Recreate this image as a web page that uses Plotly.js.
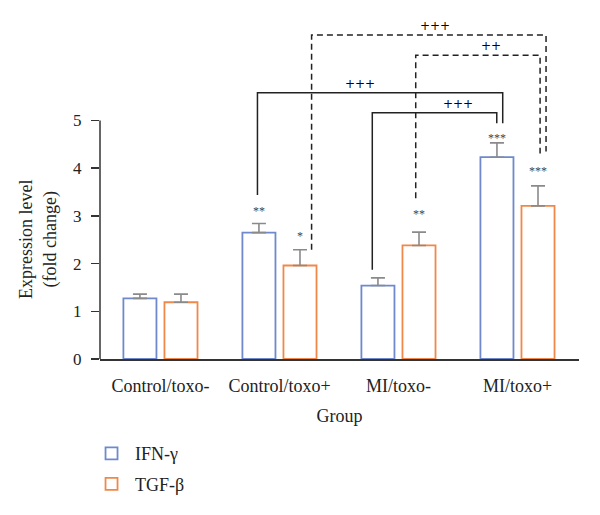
<!DOCTYPE html>
<html>
<head>
<meta charset="utf-8">
<script src="https://cdn.plot.ly/plotly-3.0.1.min.js"></script>
<style>html,body{margin:0;padding:0;background:#fff;}#chart{width:600px;height:515px;}</style>
</head>
<body>
<div id="chart"></div>
<script>
// ---- data ----
var groups = ['Control/toxo-', 'Control/toxo+', 'MI/toxo-', 'MI/toxo+'];
var ifnValues = [1.27, 2.65, 1.54, 4.23];
var ifnErrors = [0.09, 0.19, 0.16, 0.30];
var tgfValues = [1.19, 1.96, 2.38, 3.21];
var tgfErrors = [0.17, 0.33, 0.28, 0.42];
var seriesNames = ['IFN-γ', 'TGF-β'];
var yTicks = [0, 1, 2, 3, 4, 5];

// significance vs control (stars): groupIndex, series (0=IFN,1=TGF), label, y
var starGroup  = [1, 1, 2, 3, 3];
var starSeries = [0, 1, 1, 0, 1];
var starLabels = ['**', '*', '**', '***', '***'];
var starY      = [3.14, 2.62, 3.09, 4.68, 3.98];

// comparison brackets (+ marks)
var brLabels   = ['+++', '+++', '+++', '++'];
var brLeftX    = [0.815, 1.78, 1.27, 2.145];
var brRightX   = [2.876, 2.826, 3.24, 3.19];
var brLeftY    = [3.44, 1.87, 2.29, 3.37];
var brRightY   = [4.94, 4.94, 4.35, 4.31];
var brTopY     = [5.58, 5.16, 6.79, 6.37];
var brLabelX   = [1.68, 2.50, 2.31, 2.78];
var brDashed   = [false, false, true, true];

var BLUE = '#6f89cc', ORANGE = '#f0884a';
var FONT = 'Liberation Serif, Times New Roman, serif';

var traces = [
  {
    type: 'bar', name: seriesNames[0], x: groups, y: ifnValues,
    legendgroup: 'a',
    marker: {color: 'rgba(255,255,255,1)', line: {color: BLUE, width: 1.8}},
    error_y: {type: 'data', symmetric: false, array: ifnErrors, arrayminus: ifnErrors.map(function(){return 0;}),
              color: '#8a8a8a', thickness: 1.6, width: 7}
  },
  {
    type: 'bar', name: seriesNames[1], x: groups, y: tgfValues,
    legendgroup: 'b',
    marker: {color: 'rgba(255,255,255,1)', line: {color: ORANGE, width: 1.8}},
    error_y: {type: 'data', symmetric: false, array: tgfErrors, arrayminus: tgfErrors.map(function(){return 0;}),
              color: '#8a8a8a', thickness: 1.6, width: 7}
  }
];

var shapes = [];
// y axis line from 0 to 5
shapes.push({type: 'line', xref: 'paper', yref: 'y', x0: 0, x1: 0, y0: yTicks[0], y1: yTicks[yTicks.length - 1],
             line: {color: '#333', width: 1.5}});
for (var i = 0; i < brLabels.length; i++) {
  var ln = {color: '#222', width: 1.5, dash: brDashed[i] ? '6px,4px' : 'solid'};
  shapes.push({type: 'path', xref: 'x', yref: 'y',
    path: 'M' + brLeftX[i] + ',' + brLeftY[i] + ' L' + brLeftX[i] + ',' + brTopY[i] +
          ' L' + brRightX[i] + ',' + brTopY[i] + ' L' + brRightX[i] + ',' + brRightY[i],
    line: ln});
}

var annotations = [];
var offs = [-0.172, 0.172];
for (var s = 0; s < starLabels.length; s++) {
  annotations.push({xref: 'x', yref: 'y', x: starGroup[s] + offs[starSeries[s]], y: starY[s], yshift: -2,
    text: starLabels[s], showarrow: false, xanchor: 'center', yanchor: 'middle',
    font: {family: FONT, size: 12, color: '#444'}});
}
for (var b = 0; b < brLabels.length; b++) {
  annotations.push({xref: 'x', yref: 'y', x: brLabelX[b], y: brTopY[b], yshift: 9,
    text: brLabels[b], showarrow: false, xanchor: 'center', yanchor: 'middle',
    font: {family: 'DejaVu Serif, serif', size: 12, color: '#000'}});
}
annotations.push({xref: 'paper', yref: 'y', x: -0.129, y: 2.5, textangle: -90,
  text: 'Expression level<br>(fold change)', showarrow: false, xanchor: 'center', yanchor: 'middle',
  font: {family: FONT, size: 18, color: '#222'}});

var layout = {
  width: 600, height: 515,
  margin: {l: 100, r: 21, t: 6, b: 156},
  paper_bgcolor: '#fff', plot_bgcolor: '#fff',
  font: {family: FONT, size: 18, color: '#222'},
  barmode: 'group', bargap: 0.31, bargroupgap: 0.195,
  showlegend: true,
  legend: {x: -0.025, xanchor: 'left', y: -0.216, yanchor: 'top', traceorder: 'grouped',
           tracegroupgap: 4, itemwidth: 37,
           font: {family: FONT, size: 18, color: '#222'}, bgcolor: 'rgba(0,0,0,0)'},
  xaxis: {type: 'category', range: [-0.508, 3.517], showline: true, linecolor: '#333', linewidth: 1.5,
          ticks: '', ticklabelstandoff: 10, showgrid: false, zeroline: false,
          tickfont: {family: FONT, size: 18, color: '#222'},
          title: {text: 'Group', standoff: 14, font: {family: FONT, size: 18, color: '#222'}}},
  yaxis: {range: [0, 7.4], showline: false, tickvals: yTicks, ticktext: yTicks.map(String),
          ticks: 'outside', ticklen: 8, tickwidth: 1.5, tickcolor: '#333', ticklabelstandoff: 6,
          showgrid: false, zeroline: false, tickfont: {family: FONT, size: 17, color: '#222'}},
  shapes: shapes,
  annotations: annotations
};

Plotly.newPlot('chart', traces, layout, {displayModeBar: false, staticPlot: true});
</script>
</body>
</html>
